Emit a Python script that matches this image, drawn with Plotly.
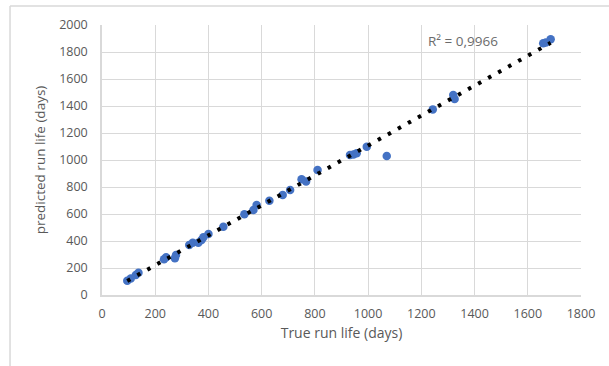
import numpy as np
import plotly.graph_objects as go

# Data
true_run_life = [95, 108, 127, 137, 233, 241, 274, 278, 328, 341, 362, 374, 381, 400,
                 456, 535, 569, 581, 629, 679, 707, 750, 767, 810, 932, 945, 957, 995,
                 1070, 1243, 1320, 1325, 1658, 1668, 1686]
predicted_run_life = [106, 123, 148, 165, 264, 279, 272, 296, 370, 387, 387, 407, 427, 452,
                      506, 598, 630, 667, 699, 741, 778, 857, 840, 926, 1037, 1040, 1050, 1099,
                      1030, 1375, 1481, 1452, 1864, 1870, 1894]
r2_label = "R² = 0,9966"
x_ticks = [0, 200, 400, 600, 800, 1000, 1200, 1400, 1600, 1800]
y_ticks = [0, 200, 400, 600, 800, 1000, 1200, 1400, 1600, 1800, 2000]

# Linear trendline (least squares) over the data range
slope, intercept = np.polyfit(true_run_life, predicted_run_life, 1)
trend_x = [min(true_run_life), max(true_run_life)]
trend_y = [slope * v + intercept for v in trend_x]

FONT = "Open Sans"
GRAY = "#595959"
GRID = "#D9D9D9"

fig = go.Figure()
fig.add_trace(go.Scatter(
    x=true_run_life, y=predicted_run_life, mode="markers",
    marker=dict(color="#4472C4", size=8.5, line=dict(width=0)),
    showlegend=False, hoverinfo="x+y"))
fig.add_trace(go.Scatter(
    x=trend_x, y=trend_y, mode="lines",
    line=dict(color="black", width=4, dash="3.5px,8px"),
    showlegend=False, hoverinfo="skip"))

fig.update_layout(
    width=609, height=366,
    margin=dict(l=102, r=28, t=25, b=71),
    paper_bgcolor="white", plot_bgcolor="white",
    font=dict(family=FONT, color=GRAY, size=12),
    xaxis=dict(range=[0, 1800], tickvals=x_ticks, showgrid=True, gridcolor=GRID,
               gridwidth=1, showline=True, linecolor=GRID, linewidth=1.5, zeroline=False,
               ticks="", tickfont=dict(size=12.5, color=GRAY), ticklabelstandoff=6,
               title=dict(text="True run life (days)", font=dict(size=14, color=GRAY), standoff=7),
               fixedrange=True),
    yaxis=dict(range=[0, 2000], tickvals=y_ticks, showgrid=True, gridcolor=GRID,
               gridwidth=1, showline=True, linecolor=GRID, linewidth=1.5, zeroline=False,
               ticks="", tickfont=dict(size=12.5, color=GRAY), ticklabelstandoff=10,
               title=dict(text="predicted run life (days)", font=dict(size=13.5, color=GRAY), standoff=10),
               fixedrange=True),
    annotations=[dict(x=1218, y=1880, xref="x", yref="y", text=r2_label, showarrow=False,
                      xanchor="left", yanchor="middle", font=dict(size=13.5, color="#6B6B6B"))],
    shapes=[
        dict(type="line", xref="paper", yref="paper", x0=-0.192, x1=1.1, y0=1.0704, y1=1.0704,
             line=dict(color=GRID, width=1.5)),
        dict(type="line", xref="paper", yref="paper", x0=-0.192, x1=-0.192, y0=1.0704, y1=-0.3,
             line=dict(color=GRID, width=1.5)),
    ],
)

fig.write_html("out.html")
